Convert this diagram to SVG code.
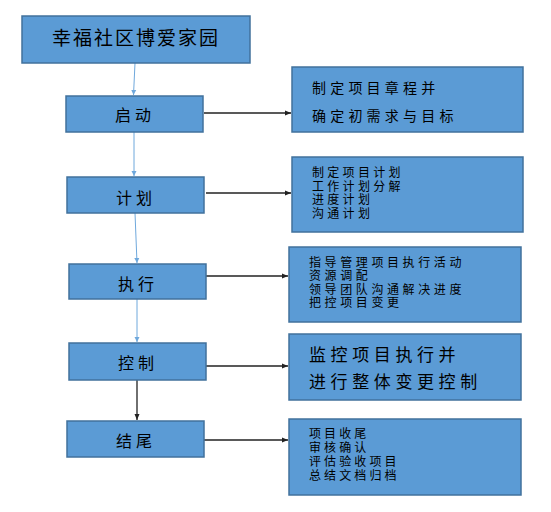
<svg xmlns="http://www.w3.org/2000/svg" width="551" height="512" viewBox="0 0 551 512">
<style>
.box{fill:#5b9bd5;stroke:#41719c;stroke-width:1.5}
.t{font-family:"Liberation Sans","Noto Sans CJK SC",sans-serif;fill:#000}
.c{text-anchor:middle}
.blue{stroke:#6fa8dc;stroke-width:1;fill:none}
.dark{stroke:#222;stroke-width:1.3;fill:none}
</style>
<defs>
<marker id="ab" markerWidth="6" markerHeight="6" refX="5" refY="3" orient="auto" markerUnits="userSpaceOnUse"><path d="M0,0.5 L5,3 L0,5.5 Z" fill="#6fa8dc"/></marker>
<marker id="ad" markerWidth="7" markerHeight="6" refX="6" refY="3" orient="auto" markerUnits="userSpaceOnUse"><path d="M0,0.5 L6,3 L0,5.5 Z" fill="#222"/></marker>
</defs>
<rect width="551" height="512" fill="#fff"/>
<g id="connectors">
<line class="blue" x1="135" y1="63" x2="133.5" y2="95" marker-end="url(#ab)"/>
<line class="blue" x1="134" y1="132" x2="134" y2="176" marker-end="url(#ab)"/>
<line class="blue" x1="135" y1="213" x2="137" y2="263" marker-end="url(#ab)"/>
<line class="blue" x1="137" y1="299" x2="137" y2="342" marker-end="url(#ab)"/>
<line class="dark" x1="137" y1="380" x2="137" y2="420" stroke-width="1.8" marker-end="url(#ad)"/>
<line class="dark" x1="204" y1="113" x2="291" y2="113" marker-end="url(#ad)"/>
<line class="dark" x1="206" y1="193" x2="291" y2="193" marker-end="url(#ad)"/>
<line class="dark" x1="206" y1="276" x2="288" y2="276" marker-end="url(#ad)"/>
<line class="dark" x1="206" y1="366" x2="288" y2="366" marker-end="url(#ad)"/>
<line class="dark" x1="204" y1="440" x2="288" y2="440" marker-end="url(#ad)"/>
</g>
<g id="n0"><rect class="box" x="22" y="16" width="228" height="47"/><text class="t c" x="136" y="45" font-size="19" letter-spacing="2">幸福社区博爱家园</text></g>
<g id="n1"><rect class="box" x="66" y="96" width="137" height="36"/><text class="t c" x="135" y="121" font-size="16" letter-spacing="4">启动</text></g>
<g id="n2"><rect class="box" x="67" y="177" width="137" height="36"/><text class="t c" x="136" y="204" font-size="16" letter-spacing="4">计划</text></g>
<g id="n3"><rect class="box" x="69" y="264" width="137" height="35"/><text class="t c" x="138" y="290" font-size="16" letter-spacing="4">执行</text></g>
<g id="n4"><rect class="box" x="69" y="343" width="137" height="37"/><text class="t c" x="138" y="369" font-size="16" letter-spacing="4">控制</text></g>
<g id="n5"><rect class="box" x="67" y="421" width="137" height="36"/><text class="t c" x="136" y="447" font-size="16" letter-spacing="4">结尾</text></g>
<g id="d1"><rect class="box" x="292" y="67" width="231" height="65"/>
<text class="t" font-size="14" letter-spacing="4.2"><tspan x="312" y="93">制定项目章程并</tspan><tspan x="312" y="121">确定初需求与目标</tspan></text></g>
<g id="d2"><rect class="box" x="292" y="157" width="231" height="75"/>
<text class="t" font-size="12" letter-spacing="3.3"><tspan x="312" y="177">制定项目计划</tspan><tspan x="312" y="190.5">工作计划分解</tspan><tspan x="312" y="204">进度计划</tspan><tspan x="312" y="217.5">沟通计划</tspan></text></g>
<g id="d3"><rect class="box" x="289" y="247" width="232" height="75"/>
<text class="t" font-size="12" letter-spacing="3.6"><tspan x="309" y="266.5">指导管理项目执行活动</tspan><tspan x="309" y="280">资源调配</tspan><tspan x="309" y="293.5">领导团队沟通解决进度</tspan><tspan x="309" y="307">把控项目变更</tspan></text></g>
<g id="d4"><rect class="box" x="289" y="334" width="232" height="66"/>
<text class="t" font-size="17" letter-spacing="4.6"><tspan x="309" y="361">监控项目执行并</tspan><tspan x="309" y="388">进行整体变更控制</tspan></text></g>
<g id="d5"><rect class="box" x="289" y="419" width="232" height="76"/>
<text class="t" font-size="12" letter-spacing="3.1"><tspan x="309" y="438">项目收尾</tspan><tspan x="309" y="452">审核确认</tspan><tspan x="309" y="466">评估验收项目</tspan><tspan x="309" y="480">总结文档归档</tspan></text></g>
</svg>
